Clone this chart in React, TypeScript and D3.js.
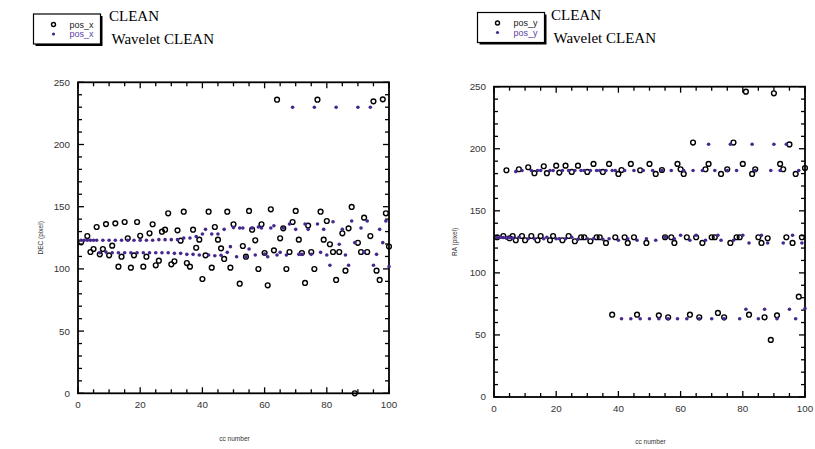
import React from "react";
import * as d3 from "d3";

// ---------- DATA ----------
// Left panel: pos_x (DEC) vs cc number
const ccXClean = [1,3,4,5,6,7,8,9,10,11,12,13,14,15,16,17,18,19,20,21,22,23,24,25,26,27,28,29,30,31,32,33,34,35,36,37,38,39,40,41,42,43,44,45,46,47,48,49,50,52,53,54,55,56,57,58,59,60,61,62,63,64,65,66,67,68,69,70,71,72,73,74,75,76,77,78,79,80,81,82,83,84,85,86,87,88,89,90,91,92,93,94,95,96,97,98,99,100];
const posXClean = [121.4,126.4,113.6,116,133.7,111.7,116,136,110.9,118.7,136.6,101.8,109.8,137.7,124.6,101,110.9,137.7,126.6,101.8,109.8,128.6,135.9,102.9,106.6,129.9,131.5,144.7,103.7,106.1,131,122.7,146,104.7,101.8,131.5,117,123.5,91.9,110.9,146,101,133.7,123.5,116.5,108,146,101,135.9,88.1,118.4,109.8,146.6,131.5,123,99.9,135.9,112.8,86.8,147.9,114.9,236,124.6,132.6,99.9,113.6,137.7,146.6,123.5,112.8,88.7,134.8,113.6,99.9,236,146,123.5,138.5,119.8,113.6,91.1,113.6,128.6,98.6,132.6,149.8,0,121,113.6,141.2,113.6,126.4,234.7,98.6,91.1,236.3,144.7,118];

const ccXWave = [1,2,3,4,5,6,7,8,9,10,11,12,13,14,15,16,17,18,19,20,21,22,23,24,25,26,27,28,29,30,31,32,33,34,35,36,37,38,39,40,41,42,43,44,45,46,47,48,49,50,51,52,53,54,55,56,57,58,59,60,61,62,63,64,65,66,67,68,69,70,71,72,73,74,75,76,77,78,79,80,81,82,83,84,85,86,87,88,89,90,91,92,93,94,95,96,97,98,99,100];
const posXWave = [123,123,123,123,123,123,113,123,113.5,123,113,123,113,123,113,123,113,123,113,123,113,123,113,123,113,123.5,113,123.5,113,123.5,112.5,123.5,112.5,124.8,111.7,124.8,111.7,126,111.2,128,131.8,111.2,128.1,110.6,128.1,111,131.8,113.3,117.9,133.2,109.8,132.9,132.9,109.8,116,132.9,111.2,133.7,132.9,112,109.8,132.9,134.7,111.2,113.3,132.9,111.2,136.1,230,131.8,111.7,111.7,136.1,131.8,111.7,230,136.1,113.3,131.8,111.2,102.9,137.9,230,119.8,131.8,111.2,102.9,138.5,121.1,230,132.9,113.3,138.5,230,102.9,111.7,131.8,121.1,138.5,101.8];

// Right panel: pos_y (RA) vs cc number
const ccYClean = [1,3,4,5,6,7,8,9,10,11,12,13,14,15,16,17,18,19,20,21,22,23,24,25,26,27,28,29,30,31,32,33,34,35,36,37,38,39,40,41,42,43,44,45,46,47,49,50,52,53,54,55,56,57,58,59,60,61,62,63,64,65,66,67,68,69,70,71,72,73,74,75,76,77,78,79,80,81,82,83,84,85,86,87,88,89,90,91,92,93,94,95,96,97,98,99,100];
const posYClean = [128.7,129.7,182.7,127.9,129.7,126.3,183.5,129.7,126.3,185.1,129.7,180.3,126.3,129.7,185.9,180.3,126.3,129.7,186.4,180.8,126.3,186.4,129.7,181.3,125.5,186.4,128.7,128.7,181.3,125.5,187.8,128.7,128.7,181.3,124.1,187.8,66.3,128.7,179.7,182.9,128.7,124.1,187.8,128.7,66.3,182.7,124.1,187.8,179.7,65.8,182.9,128.7,64.2,128.7,124.1,187.8,183.5,179.7,128.7,66.3,205,128.7,64.2,124.1,183.5,187.8,128.7,128.7,67.7,179.7,64.2,183.5,124.1,205,128.7,128.7,187.8,246,66.3,179.7,183.5,128.7,124.1,64.2,127.9,46,244.7,65.8,187.8,183.5,128.7,203.5,124.1,179.7,80.8,128.7,184.5];

const ccYWave = [1,2,3,4,5,6,7,8,9,11,12,13,14,15,16,17,18,19,20,21,22,23,24,25,26,27,28,29,30,31,32,33,34,35,36,37,38,39,40,41,42,43,44,45,46,47,48,49,50,51,52,53,54,55,56,57,58,59,60,61,62,63,64,65,66,67,68,69,70,71,72,73,74,75,76,77,78,79,80,81,82,83,84,85,86,87,88,89,90,91,92,93,94,95,96,97,98,99,100];
const posYWave = [128.5,128.7,128.5,128,128.5,128,181.6,128.7,182.5,127.5,182.5,127.5,182.5,182.5,127.5,128.7,182.5,182.5,127.5,127.5,182.5,127.5,182.5,128.7,182.5,127,182.5,182.5,127.5,182.5,127.5,182.5,182.5,127,182.5,127.5,182.5,182.5,126.3,63.1,182.5,127.5,63.1,182.5,126.3,63.1,182.5,127.5,63.1,182.5,126.3,63.1,182.5,128.7,63.1,182.5,127.5,63.1,130.3,182.5,63.1,126.3,182.5,130.3,63.1,182.5,126.3,203.6,63.1,182.5,130.3,126.3,63.1,182.5,203.6,126.3,182.5,63.1,130.3,70.7,124.1,203.6,182.5,63.1,130.3,70.7,124.1,182.5,203.6,63.1,182.5,124.1,203.6,70.7,130.3,63.1,182.5,124.1,71.3];

const xTicks = [0, 20, 40, 60, 80, 100];
const yTicks = [0, 50, 100, 150, 200, 250];

const PURPLE = "#47288f";

type PanelProps = {
  left: number; right: number; top: number; bottom: number;
  cleanX: number[]; cleanY: number[]; waveX: number[]; waveY: number[];
  yTitle: string; yTitleX: number; xTitleY: number;
};

function Panel(p: PanelProps) {
  const x = d3.scaleLinear().domain([0, 100]).range([p.left, p.right]);
  const y = d3.scaleLinear().domain([0, 250]).range([p.bottom, p.top]);
  const xMinor = d3.range(0, 101, 5);
  const yMinor = d3.range(0, 251, 10);
  const font = "'Liberation Sans', Arial, sans-serif";
  return (
    <g>
      {xMinor.map((v) => {
        const major = v % 20 === 0;
        const L = major ? 6 : 4;
        return (
          <g key={"xt" + v} stroke="#000" strokeWidth={1.3}>
            <line x1={x(v)} x2={x(v)} y1={p.bottom} y2={p.bottom - L} />
            <line x1={x(v)} x2={x(v)} y1={p.top} y2={p.top + L} />
          </g>
        );
      })}
      {yMinor.map((v) => {
        const major = v % 50 === 0;
        const L = major ? 6 : 4;
        return (
          <g key={"yt" + v} stroke="#000" strokeWidth={1.3}>
            <line x1={p.left} x2={p.left + L} y1={y(v)} y2={y(v)} />
            <line x1={p.right} x2={p.right - L} y1={y(v)} y2={y(v)} />
          </g>
        );
      })}
      <rect x={p.left} y={p.top} width={p.right - p.left} height={p.bottom - p.top}
        fill="none" stroke="#000" strokeWidth={1.8} />
      {xTicks.map((v) => (
        <text key={"xl" + v} x={x(v)} y={p.bottom + 14.5} textAnchor="middle"
          fontFamily={font} fontSize={9.8} fill="#333">{v}</text>
      ))}
      {yTicks.map((v) => (
        <text key={"yl" + v} x={p.left - 8} y={y(v) + 3.4} textAnchor="end"
          fontFamily={font} fontSize={9.8} fill="#333">{v}</text>
      ))}
      <text x={(p.left + p.right) / 2 + 1} y={p.xTitleY} textAnchor="middle"
        fontFamily={font} fontSize={6.5} fill="#333">cc number</text>
      <text transform={`translate(${p.yTitleX},${(p.top + p.bottom) / 2}) rotate(-90)`}
        textAnchor="middle" fontFamily={font} fontSize={6.5} fill="#333">{p.yTitle}</text>
      {p.cleanX.map((cx, i) => (
        <circle key={"c" + i} cx={x(cx)} cy={y(p.cleanY[i])} r={2.4}
          fill="none" stroke="#000" strokeWidth={1.4} />
      ))}
      {p.waveX.map((cx, i) => (
        <circle key={"w" + i} cx={x(cx)} cy={y(p.waveY[i])} r={1.8} fill={PURPLE} />
      ))}
    </g>
  );
}

function Legend({ bx, by, label, tx }: { bx: number; by: number; label: string; tx: number }) {
  const w = 67, h = 30;
  const sans = "'Liberation Sans', Arial, sans-serif";
  const serif = "'Liberation Serif', 'Times New Roman', serif";
  return (
    <g>
      <rect x={bx + 2} y={by + 2} width={w} height={h} fill="#000" />
      <rect x={bx} y={by} width={w} height={h} fill="#fff" stroke="#000" strokeWidth={1.2} />
      <circle cx={bx + 20} cy={by + 10.5} r={2} fill="none" stroke="#000" strokeWidth={1.4} />
      <text x={bx + 36} y={by + 13.5} fontFamily={sans} fontSize={9} fill="#222">{label}</text>
      <circle cx={bx + 20} cy={by + 20} r={1.6} fill={PURPLE} />
      <text x={bx + 36} y={by + 23} fontFamily={sans} fontSize={9} fill="#5b3fa6">{label}</text>
      <text x={tx} y={by + 7} fontFamily={serif} fontSize={15} fill="#000">CLEAN</text>
      <text x={tx + 2.5} y={by + 30} fontFamily={serif} fontSize={15} fill="#000">Wavelet CLEAN</text>
    </g>
  );
}

export default function App() {
  return (
    <svg width={815} height={449} style={{ position: "absolute", left: 0, top: 0, background: "#fff" }}
      xmlns="http://www.w3.org/2000/svg">
      <rect x={0} y={0} width={815} height={449} fill="#fff" />
      <Legend bx={33.5} by={14} label="pos_x" tx={109} />
      <Legend bx={477.5} by={12.5} label="pos_y" tx={551} />
      <Panel left={78} right={389} top={82.3} bottom={393.3}
        cleanX={ccXClean} cleanY={posXClean} waveX={ccXWave} waveY={posXWave}
        yTitle="DEC (pixel)" yTitleX={43} xTitleY={441} />
      <Panel left={494} right={805} top={86.7} bottom={397}
        cleanX={ccYClean} cleanY={posYClean} waveX={ccYWave} waveY={posYWave}
        yTitle="RA (pixel)" yTitleX={457} xTitleY={444} />
    </svg>
  );
}
